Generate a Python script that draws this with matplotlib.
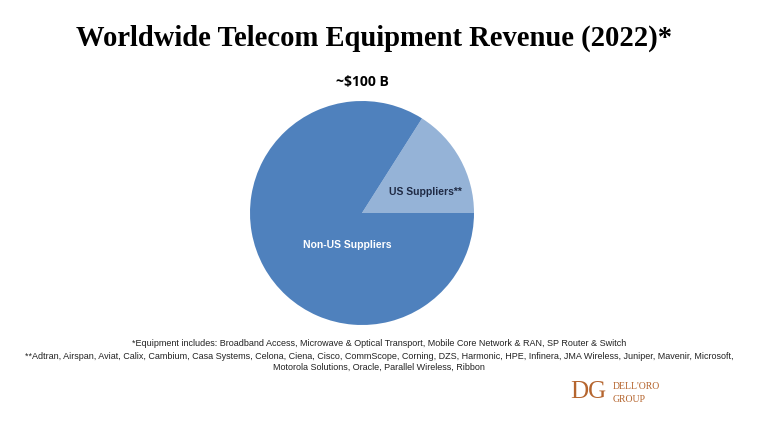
import matplotlib.pyplot as plt

# Data
labels = ["US Suppliers**", "Non-US Suppliers"]
shares = [16, 84]
colors = ["#95B3D7", "#4F81BD"]
total_label = "~$100 B"

title = "Worldwide Telecom Equipment Revenue (2022)*"
note1 = "*Equipment includes: Broadband Access, Microwave & Optical Transport, Mobile Core Network & RAN, SP Router & Switch"
note2 = ("**Adtran, Airspan, Aviat, Calix, Cambium, Casa Systems, Celona, Ciena, Cisco, CommScope, Corning, DZS, "
         "Harmonic, HPE, Infinera, JMA Wireless, Juniper, Mavenir, Microsoft,")
note3 = "Motorola Solutions, Oracle, Parallel Wireless, Ribbon"

W, H = 778, 423
fig = plt.figure(figsize=(W / 100, H / 100), dpi=100)
ax = fig.add_axes([0, 0, 1, 1])

# Pie, US wedge starts at 3 o'clock and goes counter-clockwise
ax.pie(shares, colors=colors, startangle=0, counterclock=True,
       center=(362, H - 213), radius=112, frame=True)
ax.set_xlim(0, W)
ax.set_ylim(0, H)
ax.set_aspect("equal")
ax.axis("off")

ax.text(425, H - 192, labels[0], ha="center", va="center", fontsize=7.5,
        fontweight="bold", color="#1F2A44", family="Liberation Sans")
ax.text(347, H - 245, labels[1], ha="center", va="center", fontsize=7.5,
        fontweight="bold", color="white", family="Liberation Sans")

# Titles
fig.text(374 / W, 1 - 38 / H, title, ha="center", va="center", fontsize=20.6,
         fontweight="bold", family="Liberation Serif")
fig.text(362 / W, 1 - 82 / H, total_label, ha="center", va="center", fontsize=10,
         fontweight="bold", family="Open Sans")

# Footnotes
for y, t in [(344, note1), (356, note2), (367, note3)]:
    fig.text(379 / W, 1 - y / H, t, ha="center", va="center", fontsize=6.5,
             family="Liberation Sans", color="#222222")

# Logo
brown = "#B5652E"
fig.text(588 / W, 1 - 392 / H, "DG", ha="center", va="center", fontsize=18,
         family="Liberation Serif", color=brown)
fig.text(613 / W, 1 - 386 / H, "DELL'ORO", ha="left", va="center", fontsize=7,
         family="Liberation Serif", color=brown)
fig.text(613 / W, 1 - 399 / H, "GROUP", ha="left", va="center", fontsize=7,
         family="Liberation Serif", color=brown)

fig.savefig("out.png", dpi=100)
